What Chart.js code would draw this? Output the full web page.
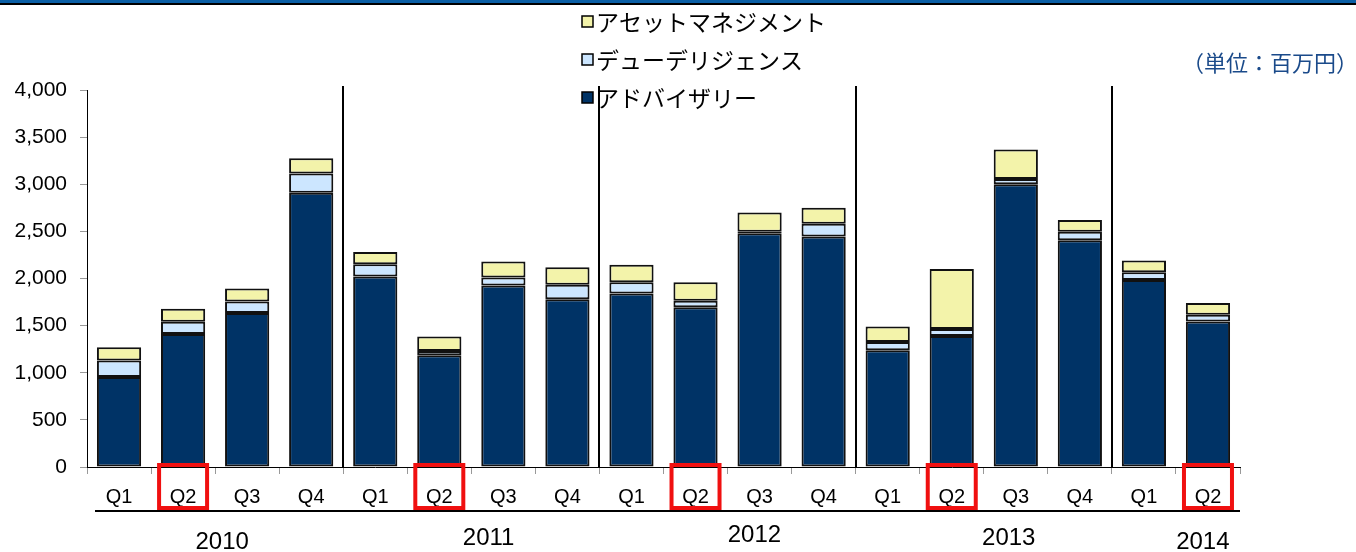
<!DOCTYPE html>
<html>
<head>
  <meta charset="utf-8">
  <title>業務別売上高推移</title>
  <style>
    body {
      margin: 0;
      background: #fff;
    }
    #salesChart {
      display: block;
    }
  </style>
</head>
<body>
  <canvas id="salesChart" width="1356" height="552"></canvas>

  <script src="https://cdn.jsdelivr.net/npm/chart.js"></script>

  <script>
    // 四半期ラベルと年
    const quarters = ['Q1', 'Q2', 'Q3', 'Q4', 'Q1', 'Q2', 'Q3', 'Q4', 'Q1', 'Q2', 'Q3', 'Q4',
                      'Q1', 'Q2', 'Q3', 'Q4', 'Q1', 'Q2'];
    const years = ['2010', '2011', '2012', '2013', '2014'];

    // 業務別売上（百万円）
    const advisory     = [955, 1410, 1635, 2910, 2020, 1185, 1925, 1780, 1840, 1695, 2480, 2445,
                          1240, 1390, 3000, 2405, 1985, 1545];
    const dueDiligence = [175, 130, 120, 205, 130, 45, 85, 155, 120, 70, 15, 135,
                          85, 75, 55, 90, 80, 70];
    const assetMgmt    = [140, 140, 140, 160, 130, 155, 170, 185, 185, 195, 205, 170,
                          165, 635, 315, 125, 125, 125];

    const yTicks = [0, 500, 1000, 1500, 2000, 2500, 3000, 3500, 4000];

    const latin = '"Liberation Sans", Arial, sans-serif';
    const jp = '"Noto Sans CJK JP", "Liberation Sans", sans-serif';

    // 年ラベルの位置（カテゴリ番号単位）と高さ
    const yearLabelAt = [1.61, 5.77, 9.92, 13.89, 16.92];
    const yearLabelY = [542, 538, 535, 538, 542];

    const overlay = {
      id: 'overlay',
      afterDraw(chart) {
        const ctx = chart.ctx;
        const x = chart.scales.x;
        const area = chart.chartArea;
        const w = (x.right - x.left) / quarters.length;
        const centre = i => x.left + (i + 0.5) * w;

        ctx.save();

        // 上端の帯
        ctx.fillStyle = '#0b5fa5';
        ctx.fillRect(0, 0, chart.width, 3);
        ctx.fillStyle = '#000';
        ctx.fillRect(0, 3, chart.width, 2);

        // 年の区切り線
        ctx.strokeStyle = '#000';
        ctx.lineWidth = 2;
        quarters.forEach((q, i) => {
          if (q === 'Q4' && i < quarters.length - 1) {
            const sx = Math.round(x.left + (i + 1) * w);
            ctx.beginPath();
            ctx.moveTo(sx, 86);
            ctx.lineTo(sx, area.bottom);
            ctx.stroke();
          }
        });

        // 四半期ラベル下の線
        ctx.beginPath();
        ctx.moveTo(95, 511);
        ctx.lineTo(x.right, 511);
        ctx.stroke();

        // Q2 の赤枠
        ctx.strokeStyle = '#f01010';
        ctx.lineWidth = 4;
        quarters.forEach((q, i) => {
          if (q === 'Q2') {
            const cx = centre(i);
            ctx.strokeRect(cx - 24, 465, 48, 43);
          }
        });

        // 年ラベル
        ctx.fillStyle = '#000';
        ctx.font = '24px ' + latin;
        ctx.textAlign = 'center';
        ctx.textBaseline = 'middle';
        years.forEach((y, k) => {
          ctx.fillText(y, centre(yearLabelAt[k]), yearLabelY[k]);
        });

        // 凡例（積み上げの上から順に）
        const items = chart.data.datasets.slice().reverse();
        ctx.font = '23px ' + jp;
        ctx.textAlign = 'left';
        items.forEach((ds, k) => {
          const cy = 22 + k * 38;
          ctx.fillStyle = ds.backgroundColor;
          ctx.fillRect(582, cy - 6, 11, 11);
          ctx.strokeStyle = '#000';
          ctx.lineWidth = 1.5;
          ctx.strokeRect(582, cy - 6, 11, 11);
          ctx.fillStyle = '#000';
          ctx.fillText(ds.label, 596, cy);
        });

        // 単位
        ctx.fillStyle = '#1a4a8a';
        ctx.font = '22px ' + jp;
        ctx.textAlign = 'right';
        ctx.fillText('（単位：百万円）', 1358, 63);

        ctx.restore();
      }
    };

    const barStyle = {
      borderColor: '#111',
      borderWidth: 2,
      borderSkipped: false,
      barPercentage: 0.69,
      categoryPercentage: 1.0
    };

    new Chart(document.getElementById('salesChart'), {
      type: 'bar',
      data: {
        labels: quarters,
        datasets: [
          Object.assign({ label: 'アドバイザリー', data: advisory, backgroundColor: '#003366' }, barStyle),
          Object.assign({ label: 'デューデリジェンス', data: dueDiligence, backgroundColor: '#cce6ff' }, barStyle),
          Object.assign({ label: 'アセットマネジメント', data: assetMgmt, backgroundColor: '#f3f3aa' }, barStyle)
        ]
      },
      options: {
        responsive: false,
        animation: false,
        devicePixelRatio: 1,
        layout: { padding: { left: 0, top: 90, right: 116, bottom: 0 } },
        plugins: {
          legend: { display: false },
          tooltip: { enabled: false }
        },
        scales: {
          x: {
            stacked: true,
            afterFit: s => { s.height = 85; },
            grid: {
              offset: true,
              drawOnChartArea: false,
              drawTicks: true,
              tickLength: 7,
              color: '#999'
            },
            border: { color: '#000', width: 1 },
            ticks: {
              color: '#000',
              padding: 11,
              maxRotation: 0,
              autoSkip: false,
              font: { family: latin, size: 20 }
            }
          },
          y: {
            stacked: true,
            min: 0,
            max: 4000,
            afterFit: s => { s.width = 87; },
            afterBuildTicks: s => { s.ticks = yTicks.map(v => ({ value: v })); },
            grid: {
              drawOnChartArea: false,
              drawTicks: true,
              tickLength: 7,
              color: '#999'
            },
            border: { color: '#000', width: 1 },
            ticks: {
              color: '#000',
              padding: 13,
              font: { family: latin, size: 21 }
            }
          }
        }
      },
      plugins: [overlay]
    });
  </script>
</body>
</html>
